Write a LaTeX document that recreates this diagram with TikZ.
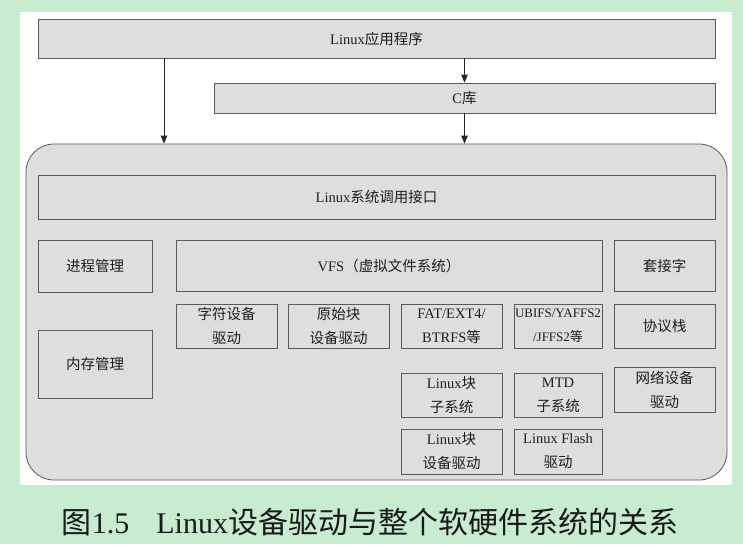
\documentclass[tikz,border=0pt]{standalone}
\usepackage{fontspec}
\setmainfont{Liberation Serif}
\newfontfamily\cjk{Noto Sans CJK SC}
\usetikzlibrary{arrows.meta}
\definecolor{bggreen}{RGB}{200,236,208}
\definecolor{boxgray}{RGB}{221,222,222}
\definecolor{linegray}{RGB}{90,90,90}
\definecolor{txtgray}{RGB}{30,30,30}
\tikzset{
 layerbox/.style={draw=linegray, fill=boxgray, line width=0.8pt, inner sep=0pt, align=center,
   text=txtgray, font=\fontsize{14.5pt}{24pt}\selectfont},
 arr/.style={-{Triangle[length=8pt,width=6.5pt]}, draw=black!85, line width=0.8pt}
}
\begin{document}
\begin{tikzpicture}[x=1pt,y=-1pt]
 \fill[bggreen] (0,0) rectangle (743,544);
 \fill[white] (20,12) rectangle (732,485);
 % user space
 \node[layerbox, minimum width=677pt, minimum height=39pt] (app) at (376.5,38.5) {Linux{\cjk 应用程序}};
 \node[layerbox, minimum width=501pt, minimum height=30pt] (clib) at (464.5,98) {C{\cjk 库}};
 % kernel
 \node[layerbox, rounded corners=28pt, minimum width=701pt, minimum height=336pt] (kernel) at (376.5,312) {};
 \node[layerbox, minimum width=677pt, minimum height=44pt] (sci) at (376.5,197) {Linux{\cjk 系统调用接口}};
 \node[layerbox, minimum width=114pt, minimum height=52pt] (proc) at (95,266) {\cjk 进程管理};
 \node[layerbox, minimum width=114pt, minimum height=68pt] (mem) at (95,364) {\cjk 内存管理};
 \node[layerbox, minimum width=426pt, minimum height=51pt] (vfs) at (389,265.5) {VFS{\cjk （虚拟文件系统）}};
 \node[layerbox, minimum width=101pt, minimum height=51pt] (sock) at (664.5,265.5) {\cjk 套接字};
 % drivers and file systems
 \node[layerbox, minimum width=101pt, minimum height=44pt] (chr) at (226.5,326) {\cjk 字符设备\\\cjk 驱动};
 \node[layerbox, minimum width=101pt, minimum height=44pt] (raw) at (338.5,326) {\cjk 原始块\\\cjk 设备驱动};
 \node[layerbox, minimum width=101pt, minimum height=44pt] (fat) at (451.5,326) {FAT/EXT4/\\BTRFS{\cjk 等}};
 \node[layerbox, minimum width=88pt, minimum height=44pt, font=\fontsize{13pt}{24pt}\selectfont] (ubi) at (558,326) {UBIFS/YAFFS2\\/JFFS2{\cjk 等}};
 \node[layerbox, minimum width=101pt, minimum height=44pt] (proto) at (664.5,326) {\cjk 协议栈};
 \node[layerbox, minimum width=101pt, minimum height=44pt] (blk) at (451.5,395) {Linux{\cjk 块}\\\cjk 子系统};
 \node[layerbox, minimum width=88pt, minimum height=44pt] (mtd) at (558,395) {MTD\\\cjk 子系统};
 \node[layerbox, minimum width=101pt, minimum height=45pt] (net) at (664.5,389.5) {\cjk 网络设备\\\cjk 驱动};
 \node[layerbox, minimum width=101pt, minimum height=45pt] (blkdrv) at (451.5,451.5) {Linux{\cjk 块}\\\cjk 设备驱动};
 \node[layerbox, minimum width=88pt, minimum height=45pt] (flash) at (558,451.5) {Linux Flash\\\cjk 驱动};
 % calls
 \draw[arr] (164,0 |- app.south) -- (164,0 |- kernel.north);
 \draw[arr] (app.south -| clib) -- (clib.north);
 \draw[arr] (clib.south) -- (kernel.north -| clib);
 \node[text=black!90, font=\fontsize{30pt}{32pt}\selectfont] (caption) at (370,522)
   {{\cjk 图}1.5\hspace{0.9em}Linux{\cjk 设备驱动与整个软硬件系统的关系}};
\end{tikzpicture}
\end{document}
